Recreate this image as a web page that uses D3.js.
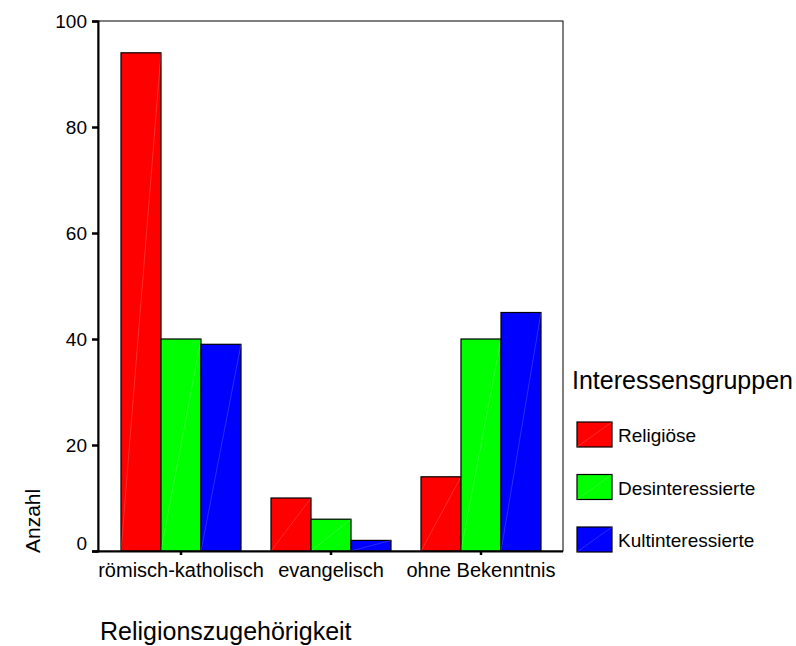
<!DOCTYPE html>
<html>
<head>
<meta charset="utf-8">
<script src="https://cdn.jsdelivr.net/npm/d3@7"></script>
<style>
  html, body { margin: 0; padding: 0; background: #fff; }
  svg { display: block; font-family: "Liberation Sans", Arial, sans-serif; }
</style>
</head>
<body>
<svg id="chart" width="796" height="646"></svg>
<script>
const categories = ["römisch-katholisch", "evangelisch", "ohne Bekenntnis"];
const groups = ["Religiöse", "Desinteressierte", "Kultinteressierte"];
const religiose = [94, 10, 14];
const desinteressierte = [40, 6, 40];
const kultinteressierte = [39, 2, 45];
const yTicks = [0, 20, 40, 60, 80, 100];
const colors = ["#ff0000", "#00ff00", "#0000ff"];
const seriesValues = [religiose, desinteressierte, kultinteressierte];

const svg = d3.select("#chart");
const pLeft = 98, pRight = 563, pTop = 21, pBottom = 551;

const y = d3.scaleLinear().domain([0, 100]).range([pBottom, pTop]);
const x0 = d3.scaleBand().domain(categories).range([106, 556]).paddingInner(0.2).paddingOuter(0.1);
const x1 = d3.scaleBand().domain(groups).range([0, x0.bandwidth()]);
const color = d3.scaleOrdinal().domain(groups).range(colors);

// frame
svg.append("rect").attr("x", pLeft).attr("y", pTop).attr("width", pRight - pLeft).attr("height", pBottom - pTop)
  .attr("fill", "none").attr("stroke", "#000").attr("stroke-width", 1);

// bars
const data = [];
categories.forEach((c, i) => groups.forEach((g, j) => data.push({ c, g, v: seriesValues[j][i] })));
const bars = svg.append("g");
data.forEach(d => {
  const bx = x0(d.c) + x1(d.g), bw = x1.bandwidth(), by = y(d.v), bh = y(0) - y(d.v);
  bars.append("rect").attr("x", bx).attr("y", by).attr("width", bw).attr("height", bh)
    .attr("fill", color(d.g)).attr("stroke", "#000").attr("stroke-width", 1.2);
  bars.append("line").attr("x1", bx).attr("y1", y(0)).attr("x2", bx + bw).attr("y2", by)
    .attr("stroke", "#fff").attr("stroke-opacity", 0.25).attr("stroke-width", 0.7);
});

// y axis
const yAxis = d3.axisLeft(y).tickValues(yTicks).tickSize(6).tickPadding(5);
const yg = svg.append("g").attr("transform", `translate(${pLeft},0)`).call(yAxis);
yg.select(".domain").attr("stroke-width", 2);
yg.selectAll(".tick line").attr("stroke-width", 2.5);
yg.selectAll(".tick text").attr("font-size", 19).attr("font-family", "Liberation Sans, Arial, sans-serif").attr("fill", "#000");
yg.selectAll(".tick text").filter(d => d === 0).attr("dy", "-0.1em");

// x axis
const xAxis = d3.axisBottom(x0).tickSize(4).tickPadding(8);
const xg = svg.append("g").attr("transform", `translate(0,${pBottom})`).call(xAxis);
xg.select(".domain").attr("d", `M${pLeft - 4},0.5H${pRight}`).attr("stroke-width", 2);
xg.selectAll(".tick line").attr("stroke-width", 2.5);
xg.selectAll(".tick text").attr("font-size", 20).attr("font-family", "Liberation Sans, Arial, sans-serif").attr("fill", "#000");

// axis titles
svg.append("text").attr("transform", "translate(40,553) rotate(-90)")
  .attr("font-size", 21).attr("text-anchor", "start").text("Anzahl");
svg.append("text").attr("x", 100).attr("y", 640).attr("font-size", 25).text("Religionszugehörigkeit");

// legend
const lg = svg.append("g");
lg.append("text").attr("x", 572).attr("y", 389).attr("font-size", 25).text("Interessensgruppen");
groups.forEach((g, i) => {
  const ty = 422 + i * 52.5;
  lg.append("rect").attr("x", 577).attr("y", ty).attr("width", 35).attr("height", 25)
    .attr("fill", color(g)).attr("stroke", "#000").attr("stroke-width", 1.2);
  lg.append("line").attr("x1", 577).attr("y1", ty + 25).attr("x2", 612).attr("y2", ty)
    .attr("stroke", "#fff").attr("stroke-opacity", 0.25).attr("stroke-width", 0.7);
  lg.append("text").attr("x", 618).attr("y", ty + 20).attr("font-size", 19).text(g);
});
</script>
</body>
</html>
